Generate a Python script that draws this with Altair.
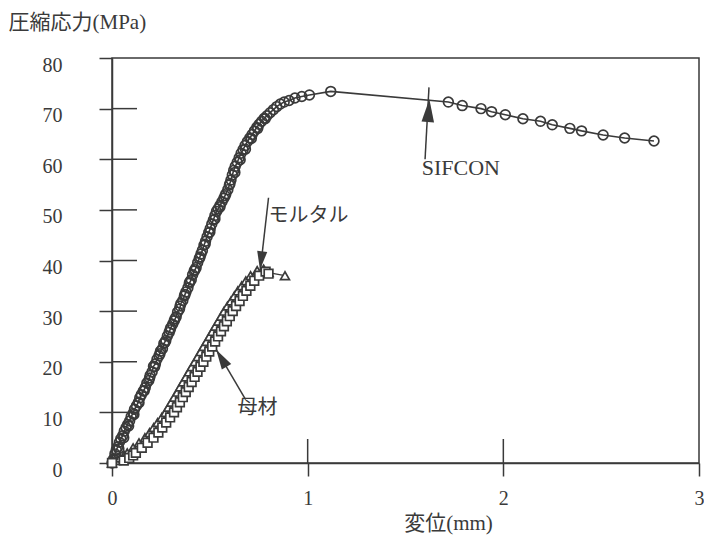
import altair as alt
import pandas as pd

INK = "#3a3a3a"
SERIF = "Liberation Serif"
FONT = "Liberation Serif, Noto Sans CJK JP, serif"
JP = "Noto Sans CJK JP"

# SIFCON (circles)
sifcon_x = [0.000, 0.008, 0.015, 0.022, 0.030, 0.038, 0.045, 0.055, 0.063, 0.072,
            0.080, 0.090, 0.098, 0.108, 0.115, 0.125, 0.135, 0.142, 0.150, 0.160,
            0.170, 0.178, 0.188, 0.195, 0.205, 0.212, 0.222, 0.230, 0.240, 0.248,
            0.258, 0.265, 0.275, 0.283, 0.292, 0.300, 0.310, 0.318, 0.328, 0.335,
            0.345, 0.352, 0.362, 0.370, 0.378, 0.388, 0.395, 0.405, 0.412, 0.420,
            0.430, 0.438, 0.446, 0.455, 0.462, 0.470, 0.478, 0.486, 0.494, 0.502,
            0.510, 0.518, 0.526, 0.534, 0.542, 0.552, 0.562, 0.572, 0.582, 0.592,
            0.600, 0.608, 0.615, 0.622, 0.630, 0.640, 0.650, 0.660, 0.670, 0.680,
            0.692, 0.704, 0.716, 0.728, 0.740, 0.752, 0.765, 0.778, 0.792, 0.808,
            0.825, 0.842, 0.860, 0.880, 0.905, 0.935, 0.970, 1.009, 1.118,
            1.719, 1.790, 1.886, 1.940, 2.010, 2.100, 2.190, 2.250, 2.340, 2.400,
            2.510, 2.620, 2.770]
sifcon_y = [0.0, 0.8, 1.8, 2.6, 3.2, 4.1, 4.8, 5.4, 6.3, 7.0,
            7.6, 8.3, 9.2, 9.8, 10.6, 11.3, 12.0, 12.9, 13.5, 14.2,
            14.9, 15.8, 16.3, 17.3, 18.0, 19.1, 19.6, 20.5, 21.2, 22.1,
            22.6, 23.6, 24.2, 25.1, 25.8, 26.7, 27.4, 28.1, 28.9, 29.8,
            30.4, 31.5, 32.1, 33.0, 33.8, 34.6, 35.5, 36.2, 37.2, 37.9,
            38.6, 39.6, 40.4, 41.3, 42.0, 43.0, 43.8, 44.7, 45.5, 46.3,
            47.2, 48.0, 48.9, 49.7, 50.2, 50.9, 51.6, 52.3, 53.2, 54.0,
            54.9, 55.9, 56.9, 57.8, 58.6, 59.4, 60.3, 61.2, 61.9, 62.7,
            63.5, 64.2, 64.9, 65.6, 66.3, 66.9, 67.5, 68.1, 68.6, 69.2,
            69.8, 70.4, 70.9, 71.3, 71.6, 72.1, 72.4, 72.7, 73.4,
            71.3, 70.6, 70.0, 69.4, 68.8, 68.0, 67.5, 66.8, 66.1, 65.6,
            64.8, 64.2, 63.6]

# second SIFCON specimen overlapping the rising branch
sifcon2_x = [0.012, 0.035, 0.060, 0.085, 0.112, 0.138, 0.165, 0.192, 0.218, 0.245,
             0.270, 0.297, 0.322, 0.348, 0.373, 0.398, 0.424, 0.450, 0.476, 0.500,
             0.526, 0.552, 0.578, 0.603, 0.628, 0.655, 0.682, 0.712, 0.745, 0.783]
sifcon2_y = [0.6, 2.8, 5.0, 7.3, 9.6, 11.9, 14.3, 16.8, 19.0, 21.6,
             23.8, 26.3, 28.5, 31.0, 33.3, 35.8, 38.2, 40.7, 43.2, 45.6,
             48.2, 50.6, 52.8, 55.2, 57.4, 59.9, 62.0, 64.1, 66.1, 68.0]

# モルタル (triangles)
mortar_x = [0.000, 0.020, 0.042, 0.062, 0.078, 0.108, 0.138, 0.168, 0.192, 0.213,
            0.233, 0.254, 0.273, 0.288, 0.303, 0.318, 0.334, 0.348, 0.363, 0.378,
            0.393, 0.408, 0.423, 0.438, 0.453, 0.468, 0.483, 0.498, 0.513, 0.528,
            0.543, 0.558, 0.573, 0.590, 0.608, 0.625, 0.643, 0.663, 0.684, 0.708,
            0.742, 0.775, 0.800, 0.884]
mortar_y = [0, 0.5, 1, 1.5, 2, 3, 4, 5, 6, 7,
            8, 9, 10, 11, 12, 13, 14, 15, 16, 17,
            18, 19, 20, 21, 22, 23, 24, 25, 26, 27,
            28, 29, 30, 31, 32, 33, 34, 35, 36, 37,
            38, 38.3, 37.6, 37.0]

# 母材 (squares)
base_x = [0.000, 0.060, 0.088, 0.108, 0.122, 0.152, 0.182, 0.212, 0.237, 0.257,
          0.277, 0.297, 0.317, 0.332, 0.347, 0.362, 0.377, 0.392, 0.407, 0.422,
          0.437, 0.452, 0.467, 0.482, 0.497, 0.512, 0.527, 0.542, 0.557, 0.572,
          0.587, 0.602, 0.617, 0.634, 0.652, 0.669, 0.687, 0.707, 0.727, 0.752,
          0.785, 0.800]
base_y = [0, 0.5, 1, 1.5, 2, 3, 4, 5, 6, 7,
          8, 9, 10, 11, 12, 13, 14, 15, 16, 17,
          18, 19, 20, 21, 22, 23, 24, 25, 26, 27,
          28, 29, 30, 31, 32, 33, 34, 35, 36, 37,
          37.8, 37.4]

x_ticks = [0, 1, 2, 3]
y_ticks = [0, 10, 20, 30, 40, 50, 60, 70, 80]

# annotations
labels_en = ["SIFCON"]
label_en_x = [1.583]
label_en_y = [58.3]
labels_jp = ["モルタル", "母材"]
label_jp_x = [0.800, 0.642]
label_jp_y = [48.8, 10.8]
arrow_x = [1.600, 0.800, 0.683]
arrow_y = [60.0, 52.4, 12.5]
arrow_x2 = [1.620, 0.758, 0.533]
arrow_y2 = [74.2, 38.2, 22.4]
head_x = [1.618, 0.762, 0.559]
head_y = [69.6, 40.0, 20.7]
head_angle = [4, 187, 329]
head_size = [520, 340, 400]

W, H = 587, 405

xs = alt.Scale(domain=[0, 3], nice=False, zero=False)
ys = alt.Scale(domain=[0, 80], nice=False, zero=False)

xaxis = alt.Axis(values=x_ticks, format="d", grid=False, labelFlush=False,
                 labelFont=SERIF, labelFontSize=20, labelColor=INK,
                 labelPadding=12, labelBaseline="top",
                 tickSize=13, tickColor=INK, tickWidth=1.5,
                 domainColor=INK, domainWidth=1.5,
                 title="変位(mm)", titleFont=FONT, titleFontSize=21,
                 titleFontWeight="normal", titleColor=INK,
                 titleX=336, titleY=60, titleAlign="center",
                 titleBaseline="middle", labelOverlap=False)
yaxis = alt.Axis(values=y_ticks, format="d", grid=False, labelFlush=False,
                 labelFont=SERIF, labelFontSize=20, labelColor=INK,
                 labelPadding=37, labelBaseline="middle", labelOffset=7,
                 tickSize=13, tickColor=INK, tickWidth=1.5,
                 domainColor=INK, domainWidth=1.5,
                 title="圧縮応力(MPa)", titleFont=FONT, titleFontSize=21,
                 titleFontWeight="normal", titleColor=INK, titleAngle=0,
                 titleX=-104, titleY=-36, titleAlign="left",
                 titleBaseline="middle", labelOverlap=False)


def X(field="x"):
    return alt.X(f"{field}:Q", scale=xs, axis=xaxis)


def Y(field="y"):
    return alt.Y(f"{field}:Q", scale=ys, axis=yaxis)


sif = pd.DataFrame({"x": sifcon_x, "y": sifcon_y})
sif2 = pd.DataFrame({"x": sifcon2_x, "y": sifcon2_y})
mor = pd.DataFrame({"x": mortar_x, "y": mortar_y})
bas = pd.DataFrame({"x": base_x, "y": base_y})

sif_line = alt.Chart(sif).mark_line(color=INK, strokeWidth=1.6).encode(x=X(), y=Y())
sif_pts = alt.Chart(sif).mark_point(shape="circle", filled=False, color=INK,
                                    strokeWidth=1.7, size=95, opacity=1).encode(x=X(), y=Y())
sif2_pts = alt.Chart(sif2).mark_point(shape="circle", filled=False, color=INK,
                                      strokeWidth=1.7, size=95, opacity=1).encode(x=X(), y=Y())

mor_line = alt.Chart(mor).mark_line(color=INK, strokeWidth=1.3).encode(x=X(), y=Y())
mor_pts = alt.Chart(mor).mark_point(shape="triangle-up", filled=True, fill="white",
                                    stroke=INK, strokeWidth=1.7, size=80,
                                    opacity=1).encode(x=X(), y=Y())
bas_pts = alt.Chart(bas).mark_point(shape="square", filled=True, fill="white",
                                    stroke=INK, strokeWidth=1.7, size=75,
                                    opacity=1).encode(x=X(), y=Y())

ytick_df = pd.DataFrame({"y": y_ticks[1:-1]})
xtick_df = pd.DataFrame({"x": x_ticks[1:-1]})
ytick_in = alt.Chart(ytick_df).mark_rule(color=INK, strokeWidth=1.5).encode(
    y=Y(), x=alt.value(0), x2=alt.value(25))
xtick_in = alt.Chart(xtick_df).mark_rule(color=INK, strokeWidth=1.5).encode(
    x=X(), y=alt.value(H), y2=alt.value(H - 24))

arr = pd.DataFrame({"x": arrow_x, "y": arrow_y, "x2": arrow_x2, "y2": arrow_y2})
arrows = alt.Chart(arr).mark_rule(color=INK, strokeWidth=1.5).encode(
    x=X(), y=Y(), x2="x2:Q", y2="y2:Q")

heads = pd.DataFrame({"x": head_x, "y": head_y, "a": head_angle, "s": head_size})
arrowheads = alt.Chart(heads).mark_point(
    shape="M0,-1L0.55,1L-0.55,1Z", filled=True, color=INK, opacity=1
).encode(x=X(), y=Y(), angle=alt.Angle("a:Q", scale=None),
         size=alt.Size("s:Q", scale=None))

txt_en = pd.DataFrame({"x": label_en_x, "y": label_en_y, "t": labels_en})
texts_en = alt.Chart(txt_en).mark_text(align="left", baseline="middle", font=SERIF,
                                       fontSize=22, color=INK).encode(
    x=X(), y=Y(), text="t:N")
txt_jp = pd.DataFrame({"x": label_jp_x, "y": label_jp_y, "t": labels_jp})
texts_jp = alt.Chart(txt_jp).mark_text(align="left", baseline="middle", font=JP,
                                       fontSize=20, color=INK).encode(
    x=X(), y=Y(), text="t:N")

chart = alt.layer(
    ytick_in, xtick_in, sif_line, sif2_pts, sif_pts, mor_line, mor_pts, bas_pts,
    arrows, arrowheads, texts_en, texts_jp
).properties(
    width=W, height=H,
    autosize=alt.AutoSizeParams(type="none"),
    padding={"left": 104, "top": 50, "right": 5, "bottom": 75},
    background="white",
).configure_view(stroke=INK, strokeWidth=1.5)

chart.save("out.html", embed_options={"renderer": "svg", "actions": False})
